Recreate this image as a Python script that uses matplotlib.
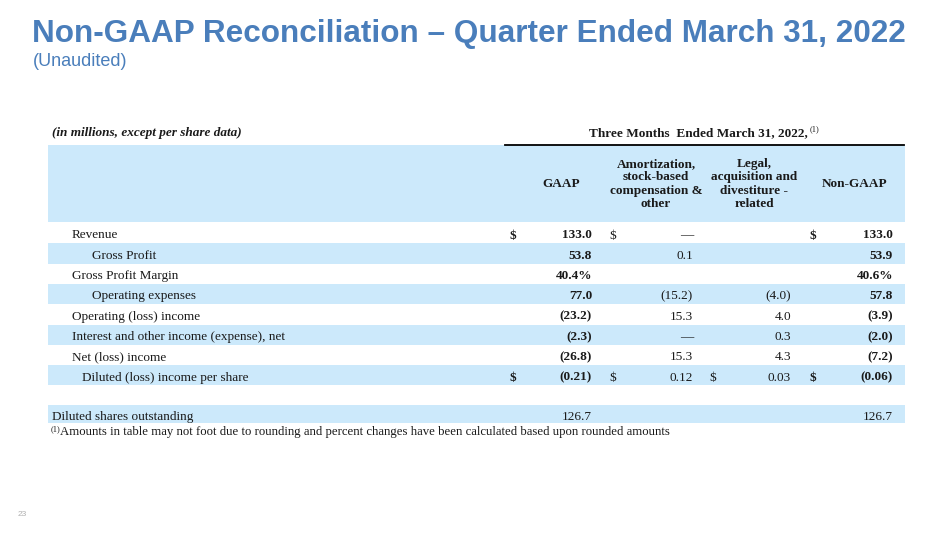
import matplotlib
matplotlib.use("Agg")
import matplotlib.pyplot as plt

# table content
row_labels = ["Revenue", "Gross Profit", "Gross Profit Margin", "Operating expenses",
              "Operating (loss) income", "Interest and other income (expense), net",
              "Net (loss) income", "Diluted (loss) income per share"]
row_indent = [0, 1, 0, 1, 0, 0, 0, 0.5]

gaap = ["133.0", "53.8", "40.4%", "77.0", "(23.2)", "(2.3)", "(26.8)", "(0.21)"]
amort = ["—", "0.1", "", "(15.2)", "15.3", "—", "15.3", "0.12"]
legal = ["", "", "", "(4.0)", "4.0", "0.3", "4.3", "0.03"]
non_gaap = ["133.0", "53.9", "40.6%", "57.8", "(3.9)", "(2.0)", "(7.2)", "(0.06)"]

# rows that carry a "$" sign, per column
dollar_gaap = [True, False, False, False, False, False, False, True]
dollar_amort = [True, False, False, False, False, False, False, True]
dollar_legal = [False, False, False, False, False, False, False, True]
dollar_non = [True, False, False, False, False, False, False, True]

col_headers = ["GAAP", "Amortization,\nstock-based\ncompensation &\nother",
               "Legal,\nacquisition and\ndivestiture -\nrelated", "Non-GAAP"]

shares_label = "Diluted shares outstanding"
shares_gaap = "126.7"
shares_non = "126.7"

title = "Non-GAAP Reconciliation \u2013 Quarter Ended March 31, 2022"
subtitle = "(Unaudited)"
units_note = "(in millions, except per share data)"
period = "Three Months  Ended March 31, 2022,"
footnote = "Amounts in table may not foot due to rounding and percent changes have been calculated based upon rounded amounts"
page_no = "23"

# style
BLUE_BAND = "#CCE9FB"
TITLE_BLUE = "#4A7EBB"
INK = "#1A1A1A"
SERIF = "Liberation Serif"
SANS = "Liberation Sans"
FS = 9.5

fig = plt.figure(figsize=(9.5, 5.34), dpi=100)
ax = fig.add_axes([0, 0, 1, 1])
ax.set_xlim(0, 950)
ax.set_ylim(534, 0)
ax.axis("off")

# title block
ax.text(32, 34, title, fontsize=22.7, fontweight="bold", color=TITLE_BLUE,
        family=SANS, va="center", ha="left")
ax.text(33, 62, subtitle, fontsize=13, color=TITLE_BLUE, family=SANS,
        va="center", ha="left")

# header band and rule
ax.barh(183.5, 857, left=48, height=77, color=BLUE_BAND, zorder=0)
ax.plot([505, 904], [144.5, 144.5], color="black", lw=1.3)

ax.text(52, 133, units_note, fontsize=FS, fontweight="bold", style="italic",
        family=SERIF, color=INK, va="center")
ax.text(808, 133, period, fontsize=FS, fontweight="bold", family=SERIF,
        color=INK, va="center", ha="right")
ax.text(810, 129.5, "(1)", fontsize=6, family=SERIF, color=INK,
        va="center", ha="left")

col_centers = [561, 656, 754, 855]
for cx, hdr in zip(col_centers, col_headers):
    ax.text(cx, 184, hdr, fontsize=FS, fontweight="bold", family=SERIF,
            color=INK, va="center", ha="center", linespacing=1.15)

# body rows
y0, pitch = 235.5, 20.3
row_y = [y0 + i * pitch for i in range(len(row_labels))]
for i, y in enumerate(row_y):
    if i % 2 == 1:
        ax.barh(y - 2.3, 857, left=48, height=pitch, color=BLUE_BAND, zorder=0)

cols = [
    (gaap, dollar_gaap, 510, 592, "bold"),
    (amort, dollar_amort, 609, 693, "normal"),
    (legal, dollar_legal, 709, 791, "normal"),
    (non_gaap, dollar_non, 809, 893, "bold"),
]

for i, (y, lab) in enumerate(zip(row_y, row_labels)):
    ax.text(72 + 20 * row_indent[i], y, lab, fontsize=FS, family=SERIF,
            color=INK, va="center", ha="left")
    for vals, dollars, dx, rx, w in cols:
        if dollars[i]:
            ax.text(dx, y, "$", fontsize=FS, family=SERIF, fontweight=w,
                    color=INK, va="center", ha="left")
        if vals[i]:
            ax.text(rx, y, vals[i], fontsize=FS, family=SERIF, fontweight=w,
                    color=INK, va="center", ha="right")

# shares outstanding row
ax.barh(414, 857, left=48, height=18.5, color=BLUE_BAND, zorder=0)
ax.text(52, 417, shares_label, fontsize=FS, family=SERIF, color=INK, va="center")
ax.text(592, 417, shares_gaap, fontsize=FS, family=SERIF, color=INK,
        va="center", ha="right")
ax.text(893, 417, shares_non, fontsize=FS, family=SERIF, color=INK,
        va="center", ha="right")

# footnote
ax.text(51, 429, "(1)", fontsize=6, family=SERIF, color=INK, va="center")
ax.text(60, 432.5, footnote, fontsize=9.2, family=SERIF, color=INK, va="center")

ax.text(18, 514, page_no, fontsize=6, family=SANS, color="#B0B0B0", va="center")

fig.savefig("out.png", dpi=100, facecolor="white")
